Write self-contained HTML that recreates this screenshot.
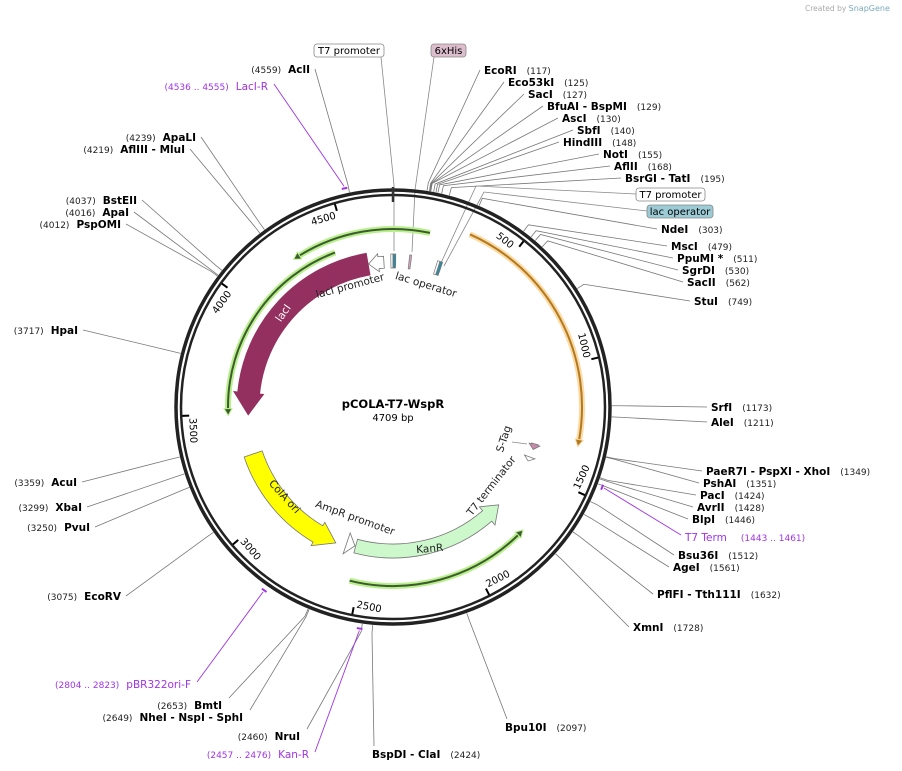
<!DOCTYPE html>
<html><head><meta charset="utf-8"><style>
html,body{margin:0;padding:0;background:#fff;}
svg{display:block;font-family:"DejaVu Sans","Liberation Sans",sans-serif;}
.nm{font-weight:bold;font-size:10.5px;fill:#000;}
.nb{font-size:9px;fill:#222;}
.pr{fill:#a033e6;font-size:10.5px;}
.prn{fill:#a033e6;font-size:9px;}
</style></head><body>
<svg id="map" width="902" height="771" viewBox="0 0 902 771" xmlns="http://www.w3.org/2000/svg">
<text x="805" y="11" font-size="7.5" fill="#aaa">Created by <tspan fill="#7ab" font-size="8">SnapGene</tspan></text>
<g id="lines"></g>
<g id="backbone"></g>
<g id="features"></g>
<g id="labels"></g>
<text x="393" y="408" text-anchor="middle" font-size="11.5" font-weight="bold">pCOLA-T7-WspR</text>
<text x="393" y="421" text-anchor="middle" font-size="10">4709 bp</text>
</svg>
<script>
const TOTAL = 4709;
const tickValues = [500,1000,1500,2000,2500,3000,3500,4000,4500];
const rightEnzNames = ["EcoRI","Eco53kI","SacI","BfuAI  - BspMI","AscI","SbfI","HindIII","NotI","AflII","BsrGI  - TatI","NdeI","MscI","PpuMI *","SgrDI","SacII","StuI","SrfI","AleI","PaeR7I  - PspXI  - XhoI","PshAI","PacI","AvrII","BlpI","Bsu36I","AgeI","PflFI  - Tth111I","XmnI","Bpu10I","BspDI  - ClaI"];
const rightEnzSites = [117,125,127,129,130,140,148,155,168,195,303,479,511,530,562,749,1173,1211,1349,1351,1424,1428,1446,1512,1561,1632,1728,2097,2424];
const leftEnzNames = ["AclI","ApaLI","AflIII  - MluI","BstEII","ApaI","PspOMI","HpaI","AcuI","XbaI","PvuI","EcoRV","BmtI","NheI  - NspI  - SphI","NruI"];
const leftEnzSites = [4559,4239,4219,4037,4016,4012,3717,3359,3299,3250,3075,2653,2649,2460];
const primerNames = ["LacI-R","pBR322ori-F","Kan-R","T7 Term"];
const primerStarts = [4536,2804,2457,1443];
const primerEnds = [4555,2823,2476,1461];
const featNames = ["lacI","lacI promoter","ColA ori","AmpR promoter","KanR","S-Tag","T7 terminator"];
const featStarts = [4580,4662,3289,2600,2551,1368,1440];
const featEnds = [3491,4582,2653,2555,1737,1398,1462];
const orfNames = ["orf-top","orf-laci","orf-wspr","orf-kanr"];
const orfStarts = [157,4440,314,2538];
const orfEnds = [4265,3493,1335,1745];

// layout (pixel positions of label text centers)
const rightLabelXY = [[484,70],[508,82],[528,94],[547,106],[562,118],[577,130],[563,142],[603,154],[614,166],[625,178],[661,229],[671,246],[677,258],[682,270],[687,282],[694,301],[711,407],[711,422],[706,471],[703,483],[700,495],[697,507],[692,519],[678,555],[673,567],[657,594],[633,627],[505,727],[372,754]];
const leftLabelXY = [[310,69],[196,137],[185,149],[137,200],[129,212],[121,224],[78,330],[77,482],[82,507],[90,527],[121,596],[222,705],[243,717],[300,736]];
const primerLabelXY = [[268,86,"end"],[191,684,"end"],[309,754,"end"],[685,537,"start"]];

const cx=393, cy=407, R=217;
const NS="http://www.w3.org/2000/svg";
function ang(bp){return bp/TOTAL*360;}
function pt(d,r){const t=d*Math.PI/180;return [cx+r*Math.sin(t), cy-r*Math.cos(t)];}
function mk(tag,attrs,parent){const e=document.createElementNS(NS,tag);for(const k in attrs)e.setAttribute(k,attrs[k]);parent.appendChild(e);return e;}
const gL=document.getElementById('lines'), gB=document.getElementById('backbone'), gF=document.getElementById('features'), gT=document.getElementById('labels');

let c1=mk('circle',{cx:cx,cy:cy,r:R,fill:'none',stroke:'#222','stroke-width':3.5},gB);


let c2=mk('circle',{cx:cx,cy:cy,r:R-5,fill:'none',stroke:'#222','stroke-width':2.5},gB);


let org=mk('line',{x1:cx,y1:cy-R-3,x2:cx,y2:cy-R+12,stroke:'#333','stroke-width':2.5},gB);



tickValues.forEach(v=>{
  const a=ang(v);const p1=pt(a,R-6),p2=pt(a,R-13);
  const t=mk('line',{x1:p1[0],y1:p1[1],x2:p2[0],y2:p2[1],stroke:'#000','stroke-width':2},gB);
  
  
  let rot=a%180; if(rot>90)rot-=180;
  const p=pt(a-4.3,R-16);
  const tx=mk('text',{x:p[0],y:p[1]+3.5,'text-anchor':'middle','font-size':10,transform:`rotate(${rot} ${p[0]} ${p[1]})`},gB);
  tx.textContent=v;
  
  
});

function fanLine(a,x,y,color,w){
  const p0=pt(a,R+2), p1=pt(a,R+10);
  return mk('polyline',{points:`${p0[0]},${p0[1]} ${p1[0]},${p1[1]} ${x},${y}`,fill:'none',stroke:color,'stroke-width':w||0.8},gL);
}

rightEnzNames.forEach((n,i)=>{
  const [x,y]=rightLabelXY[i];const a=ang(rightEnzSites[i]);
  let ex=x-4, ey=y; if(y>700){ex=x+2;ey=y-8;}
  const l=fanLine(a,ex,ey,'#777');
  
  
  const t=mk('text',{x:x,y:y+4},gT);
  
  
  const s1=mk('tspan',{class:'nm','xml:space':'preserve'},t);s1.textContent=n.replace(/  /g,'   ');
  const s2=mk('tspan',{class:'nb',dx:10},t);s2.textContent='('+rightEnzSites[i]+')';
});
leftEnzNames.forEach((n,i)=>{
  const [x,y]=leftLabelXY[i];const a=ang(leftEnzSites[i]);
  let ex=x+5, ey=y; if(y>690){ex=x+7;ey=y-7;}
  const l=fanLine(a,ex,ey,'#777');
  
  
  const t=mk('text',{x:x,y:y+4,'text-anchor':'end'},gT);
  
  
  const s2=mk('tspan',{class:'nb'},t);s2.textContent='('+leftEnzSites[i]+')';
  const s1=mk('tspan',{class:'nm',dx:7},t);s1.textContent=n.replace(/  /g,'   ');
});
primerNames.forEach((n,i)=>{
  const a1=ang(primerStarts[i]),a2=ang(primerEnds[i]);
  const p1=pt(a1,R+7),p2=pt(a2,R+7);
  const b=mk('path',{d:`M${p1[0]},${p1[1]} A${R+7},${R+7} 0 0 1 ${p2[0]},${p2[1]}`,fill:'none',stroke:'#a033e6','stroke-width':2},gF);
  
  
  const [x,y,anc]=primerLabelXY[i];
  const pm=pt((a1+a2)/2,R+9);
  let ex=anc==='end'?x+6:x-4, ey=y-2;
  const l=mk('line',{x1:pm[0],y1:pm[1],x2:ex,y2:ey,stroke:'#a033e6','stroke-width':0.9},gL);
  
  
  const t=mk('text',{x:x,y:y+4,'text-anchor':anc},gT);
  
  
  const rng='('+primerStarts[i]+' .. '+primerEnds[i]+')';
  if(anc==='end'){const s=mk('tspan',{class:'prn'},t);s.textContent=rng;const s2=mk('tspan',{class:'pr',dx:7},t);s2.textContent=n;}
  else{const s2=mk('tspan',{class:'pr'},t);s2.textContent=n;const s=mk('tspan',{class:'prn',dx:14},t);s.textContent=rng;}
});

function box(x,y,w,label,fill,name){
  const r=mk('rect',{x:x,y:y,width:w,height:13,rx:3,fill:fill,stroke:'#888','stroke-width':0.8},gT);
  
  
  const t=mk('text',{x:x+w/2,y:y+10,'text-anchor':'middle','font-size':10},gT);t.textContent=label;
  
  
}
[[381,57,394,251],[434,57,412,252],[636,194,441,263],[647,211,444,266]].forEach((s,i)=>{
  const l=mk('polyline',{points:i<2?`${s[0]},${s[1]} ${s[2]+(i==0?0:3)},${i==0?185:190} ${s[2]},${s[3]}`:`${s[0]},${s[1]} ${460+i*8},${i==2?186:192} ${s[2]},${s[3]}`,fill:'none',stroke:'#888','stroke-width':0.8},gL);
  
  
});
box(314,44,70,'T7 promoter','#fff','t7-promoter-box-top');
box(431,44,35,'6xHis','#dcbdcc','6xhis-box');
box(636,188,69,'T7 promoter','#fff','t7-promoter-box-right');
box(647,205,66,'lac operator','#9ccbd6','lac-operator-box');

function arrowPath(s,e,r1,r2,headPx,flare){
  const a1=ang(s),a2=ang(e);const dir=a2>a1?1:-1;
  const rm=(r1+r2)/2;const hd=headPx/rm*180/Math.PI;
  let ah=a2-dir*hd; if(dir*(ah-a1)<0)ah=a1;
  const large=Math.abs(ah-a1)>180?1:0;const sw=dir>0?1:0;
  const A=pt(a1,r2),B=pt(ah,r2),C=pt(ah,r2+flare),T=pt(a2,rm),D=pt(ah,r1-flare),E=pt(ah,r1),F=pt(a1,r1);
  return `M${A} A${r2},${r2} 0 ${large} ${sw} ${B} L${C} L${T} L${D} L${E} A${r1},${r1} 0 ${large} ${1-sw} ${F} Z`;
}
const featStyle=[[134,156,22,4,'#94305f'],[139,151,10,3,'#fff'],[138,157,20,4,'#ffff00'],[136,152,9,3,'#fff'],[137,151,16,5,'#ccf8cc'],[143,150,5,2,'#c88aaa'],[142,149,6,2,'#fff']];
featNames.forEach((n,i)=>{
  const [r1,r2,h,f,col]=featStyle[i];
  const p=mk('path',{d:arrowPath(featStarts[i],featEnds[i],r1,r2,h,f),fill:col,stroke:i==0?'#94305f':'#777','stroke-width':0.8},gF);
  
  
});
[[4698,4709,'#fff'],[0,14,'#2d8aa0'],[82,92,'#d6a3bd'],[222,234,'#fff'],[234,248,'#2d8aa0']].forEach((b,i)=>{
  const p=mk('path',{d:arrowPath(b[0],b[1],139,153,0.1,0),fill:b[2],stroke:'#777','stroke-width':0.7},gF);
  
  
});

const orfStyle=[[178,'#b8f08c','#3e5a2f'],[165,'#b8f08c','#3e5a2f'],[189,'#fdd9a3','#b07a20'],[179,'#b8f08c','#3e5a2f']];
orfNames.forEach((n,i)=>{
  const [r,glow,line]=orfStyle[i];
  const a1=ang(orfStarts[i]),a2=ang(orfEnds[i]);
  const dir=(i==0||i==1||i==3)?-1:1;
  const span=dir>0?((a2-a1+360)%360):((a1-a2+360)%360);
  const large=span>180?1:0, sw=dir>0?1:0;
  const hd=7/r*180/Math.PI; const ae=a2-dir*hd;
  const P=pt(a1,r),Q=pt(ae,r);
  const d=`M${P} A${r},${r} 0 ${large} ${sw} ${Q}`;
  const g1=mk('path',{d:d,fill:'none',stroke:glow,'stroke-width':6},gF);
  
  
  const g2=mk('path',{d:d,fill:'none',stroke:line,'stroke-width':2},gF);
  
  
  const T=pt(a2,r),L1=pt(ae,r+4),L2=pt(ae,r-4);
  const hdp=mk('path',{d:`M${T} L${L1} L${L2} Z`,fill:line,stroke:glow,'stroke-width':1},gF);
  
  
});

function ftext(txt,x,y,rot,col,name,size){
  const t=mk('text',{x:x,y:y,'text-anchor':'middle','font-size':size||10.5,fill:col,transform:`rotate(${rot} ${x} ${y})`},gF);
  t.textContent=txt;
}
ftext('lacI',286,315,-55,'#fff','label-laci');
ftext('lacI promoter',351,289,-15,'#222','label-laci-promoter');
ftext('lac operator',425,288,17,'#222','label-lac-operator');
ftext('ColA ori',282,499,48,'#222','label-cola-ori');
ftext('AmpR promoter',354,521,20,'#222','label-ampr-promoter');
ftext('KanR',430,552,-5,'#222','label-kanr');
ftext('T7 terminator',494,488,-52,'#222','label-t7-terminator');
ftext('S-Tag',507,440,-72,'#222','label-s-tag');
const sl=mk('line',{x1:512,y1:442,x2:527,y2:444,stroke:'#888','stroke-width':0.7},gF);


</script>
</body></html>
